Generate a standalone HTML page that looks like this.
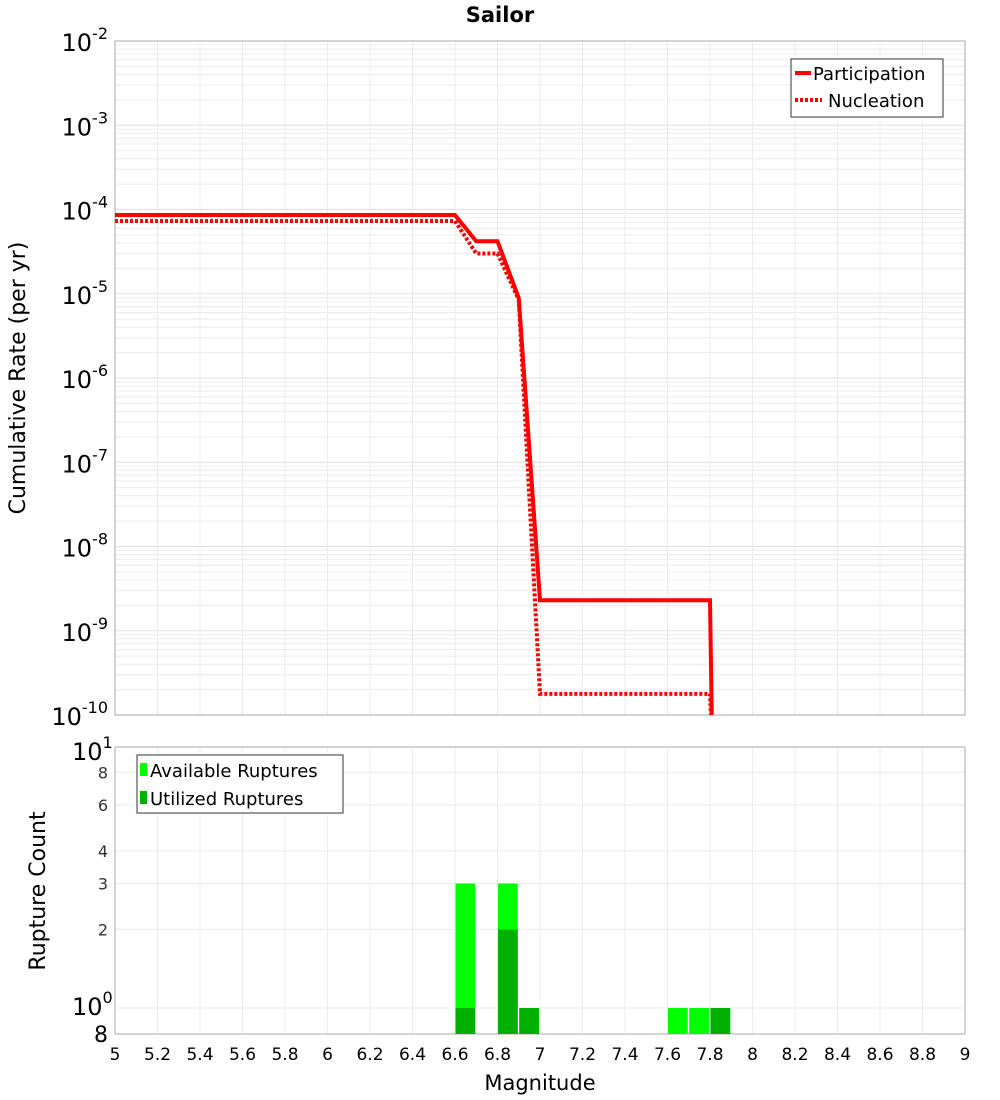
<!DOCTYPE html>
<html><head><meta charset="utf-8"><style>
html,body{margin:0;padding:0;background:#fff;}
svg{display:block;font-family:"DejaVu Sans","Liberation Sans",sans-serif;}
</style></head><body>
<svg id="chart" width="1000" height="1100" xmlns="http://www.w3.org/2000/svg">
<text x="500" y="22" text-anchor="middle" font-size="21" font-weight="bold">Sailor</text>
<g id="topg"></g>
<g id="botg"></g>
<text transform="translate(25,378) rotate(-90)" text-anchor="middle" font-size="22">Cumulative Rate (per yr)</text>
<text transform="translate(45,891) rotate(-90)" text-anchor="middle" font-size="22">Rupture Count</text>
<text x="540" y="1090" text-anchor="middle" font-size="21">Magnitude</text>
<g>
<rect x="791" y="59" width="152" height="58" fill="#fff" stroke="#333" stroke-width="1"/>
<line x1="795" y1="73" x2="811" y2="73" stroke="red" stroke-width="4"/>
<text x="813" y="80" font-size="18">Participation</text>
<line x1="795" y1="100" x2="822" y2="100" stroke="red" stroke-width="4" stroke-dasharray="3,2"/>
<text x="828" y="107" font-size="18">Nucleation</text>
</g>
<g>
<rect x="137" y="755" width="206" height="58" fill="#fff" stroke="#333" stroke-width="1"/>
<rect x="140" y="763" width="7" height="13" fill="#00ff00"/>
<text x="150" y="777" font-size="18">Available Ruptures</text>
<rect x="140" y="791" width="7" height="13" fill="#00b000"/>
<text x="150" y="805" font-size="18">Utilized Ruptures</text>
</g>
</svg>
<script>
const partMags=[5.0,6.6,6.7,6.8,6.9,7.0,7.8,7.81];
const partRates=[8.6e-5,8.6e-5,4.2e-5,4.2e-5,8.9e-6,2.3e-9,2.3e-9,5e-11];
const nuclMags=[5.0,6.6,6.7,6.8,6.9,7.0,7.8,7.81];
const nuclRates=[7.3e-5,7.3e-5,3.0e-5,3.0e-5,8.5e-6,1.78e-10,1.78e-10,5e-11];
const binMags=[6.65,6.85,6.95,7.65,7.75,7.85];
const availCounts=[3,3,1,1,1,1];
const usedCounts=[1,2,1,0,0,1];
const xTicks=[5,5.2,5.4,5.6,5.8,6,6.2,6.4,6.6,6.8,7,7.2,7.4,7.6,7.8,8,8.2,8.4,8.6,8.8,9];
const xTickLabels=["5","5.2","5.4","5.6","5.8","6","6.2","6.4","6.6","6.8","7","7.2","7.4","7.6","7.8","8","8.2","8.4","8.6","8.8","9"];
const topExps=[-2,-3,-4,-5,-6,-7,-8,-9,-10];
const botTicks=[1,2,3,4,6,8,10];
const botTickLabels=["","2","3","4","6","8",""];

(function(){
const NS="http://www.w3.org/2000/svg";
const L=115,R=965,T1=41,B1=715,T2=747,B2=1034;
const X=m=>L+(m-5)/4*(R-L);
const Y1=v=>T1+(-2-Math.log10(v))*(B1-T1)/8;
const Y2=v=>T2+(1-Math.log10(v))*261;
function mk(parent,tag,attrs){const e=document.createElementNS(NS,tag);for(const k in attrs)e.setAttribute(k,attrs[k]);parent.appendChild(e);return e;}
const topG=document.getElementById('topg'),botG=document.getElementById('botg');
const clip=mk(document.getElementById('chart'),'clipPath',{id:'c1'});mk(clip,'rect',{x:L,y:T1,width:R-L,height:B1-T1});
for(let d=-10;d<-2;d++){for(let k=1;k<10;k++){const y=Y1(k*Math.pow(10,d));const g=mk(topG,'line',{x1:L,x2:R,y1:y,y2:y,stroke:k==1?'#e0e0e0':'#ececec','stroke-width':1});

}}
xTicks.forEach(m=>{const g=mk(topG,'line',{x1:X(m),x2:X(m),y1:T1,y2:B1,stroke:'#ebebeb'});


 const h=mk(botG,'line',{x1:X(m),x2:X(m),y1:T2,y2:B2,stroke:'#ebebeb'});

});
botTicks.forEach(v=>{const h=mk(botG,'line',{x1:L,x2:R,y1:Y2(v),y2:Y2(v),stroke:'#ebebeb'});

});
mk(topG,'rect',{x:L,y:T1,width:R-L,height:B1-T1,fill:'none',stroke:'#aaa'});
mk(botG,'rect',{x:L,y:T2,width:R-L,height:B2-T2,fill:'none',stroke:'#aaa'});
topExps.forEach(e=>{const y=Y1(Math.pow(10,e));const t=mk(topG,'text',{x:108,y:y+10,'text-anchor':'end','font-size':24});


 t.textContent='10';const s=mk(t,'tspan',{dy:-12,'font-size':16});s.textContent=String(e);});
function pts(ms,vs){return ms.map((m,i)=>X(m)+','+Y1(vs[i])).join(' ');}
const p=mk(topG,'polyline',{points:pts(partMags,partRates),fill:'none',stroke:'red','stroke-width':4,'clip-path':'url(#c1)'});


const n=mk(topG,'polyline',{points:pts(nuclMags,nuclRates),fill:'none',stroke:'red','stroke-width':4,'stroke-dasharray':'3,2','clip-path':'url(#c1)'});


const w=(R-L)/40;
binMags.forEach((m,i)=>{const x=X(m)-w/2+0.5;
 const a=mk(botG,'rect',{x:x,y:Y2(availCounts[i]),width:w-1.5,height:B2-Y2(availCounts[i]),fill:'#00ff00'});


 if(usedCounts[i]>0){const u=mk(botG,'rect',{x:x,y:Y2(usedCounts[i]),width:w-1.5,height:B2-Y2(usedCounts[i]),fill:'#00b000'});

}});
botTicks.forEach((v,i)=>{if(!botTickLabels[i])return;const t=mk(botG,'text',{x:108,y:Y2(v)+6,'text-anchor':'end','font-size':16,fill:'#333'});t.textContent=botTickLabels[i];

});
[[1,'0',1015],[10,'1',760]].forEach(([v,e,y])=>{const t=mk(botG,'text',{x:72,y:y,'font-size':24});t.textContent='10';const s=mk(t,'tspan',{dy:-12,'font-size':16});s.textContent=e;

});
const t8=mk(botG,'text',{x:108,y:1042,'text-anchor':'end','font-size':22});t8.textContent='8';


xTicks.forEach((m,i)=>{const t=mk(botG,'text',{x:X(m),y:1060,'text-anchor':'middle','font-size':17});t.textContent=xTickLabels[i];

});
})();
</script>
</body></html>
